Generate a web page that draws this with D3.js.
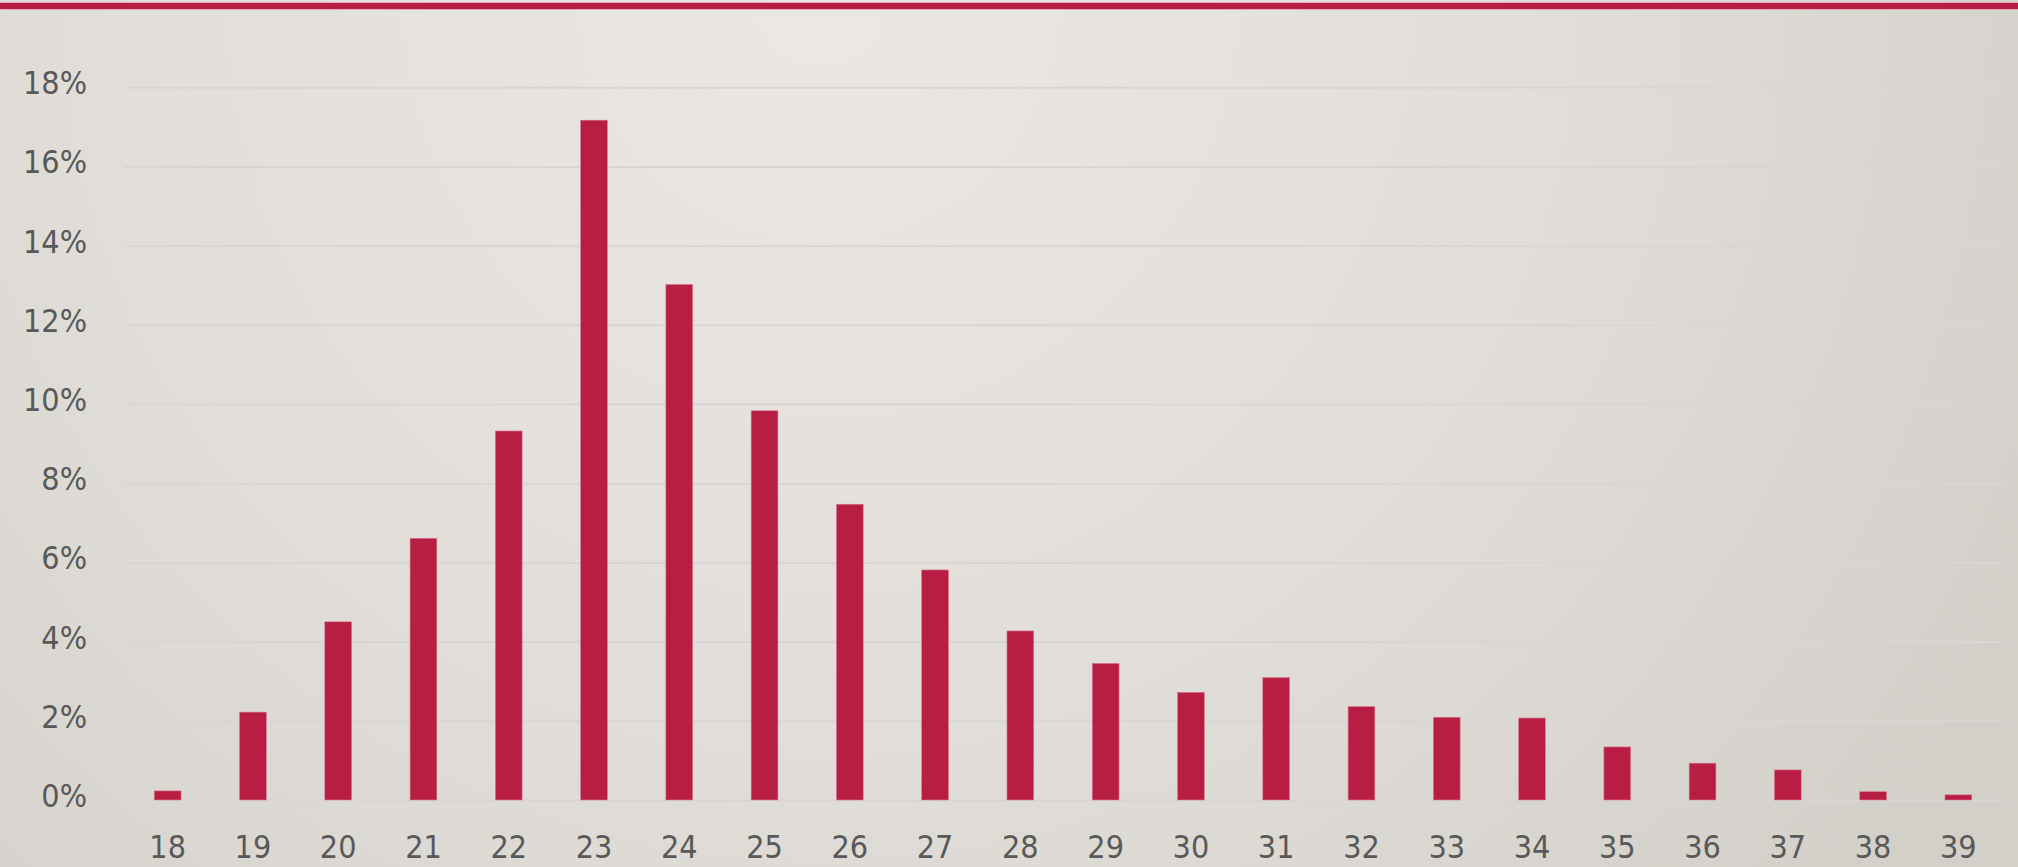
<!DOCTYPE html>
<html>
<head>
<meta charset="utf-8">
<script src="https://cdn.jsdelivr.net/npm/d3@7"></script>
<style>
  html, body { margin: 0; padding: 0; overflow: hidden; }
  svg { display: block; }
</style>
</head>
<body>
<svg id="chart"></svg>
<script>
// ages on the x axis and share of people per age (%)
const ages = ['18','19','20','21','22','23','24','25','26','27','28','29','30','31','32','33','34','35','36','37','38','39'];
const shares = [0.23, 2.22, 4.50, 6.61, 9.32, 17.17, 13.02, 9.83, 7.47, 5.81, 4.27, 3.45, 2.72, 3.09, 2.36, 2.09, 2.07, 1.34, 0.93, 0.76, 0.21, 0.13];
const yTicks = [0, 2, 4, 6, 8, 10, 12, 14, 16, 18];

const W = 2018, H = 867;
const margin = { top: 0, right: 17, left: 125 };
const y0 = 800, yTop = 87.3;
const font = '"DejaVu Sans Condensed", "DejaVu Sans", Verdana, sans-serif';

const svg = d3.select('#chart').attr('width', W).attr('height', H);

// background
const defs = svg.append('defs');
const grad = defs.append('radialGradient')
    .attr('id', 'bg')
    .attr('gradientUnits', 'userSpaceOnUse')
    .attr('cx', 820).attr('cy', 0).attr('r', 1350);
grad.append('stop').attr('offset', '0%').attr('stop-color', '#ebe8e4');
grad.append('stop').attr('offset', '55%').attr('stop-color', '#e1ded9');
grad.append('stop').attr('offset', '100%').attr('stop-color', '#d3d0ca');
svg.append('rect').attr('width', W).attr('height', H).attr('fill', 'url(#bg)');

// red band on top
svg.append('rect').attr('x', 0).attr('y', 2).attr('width', W).attr('height', 8).attr('fill', '#e3a9b5');
svg.append('rect').attr('x', 0).attr('y', 3).attr('width', W).attr('height', 6).attr('fill', '#b81e44');

const x = d3.scaleBand()
    .domain(ages)
    .range([margin.left, W - margin.right])
    .paddingInner(0.686)
    .paddingOuter(0.343);

const y = d3.scaleLinear()
    .domain([0, 18])
    .range([y0, yTop]);

// gridlines
svg.append('g')
    .attr('transform', `translate(${margin.left},0)`)
    .call(d3.axisLeft(y).tickValues(yTicks).tickSize(-(W - margin.right - margin.left)).tickFormat(''))
    .call(g => g.select('.domain').remove())
    .call(g => g.selectAll('line').attr('stroke', '#d8d6d4').attr('stroke-width', 2));

// y labels
svg.append('g')
    .selectAll('text')
    .data(yTicks)
    .join('text')
    .attr('x', 87)
    .attr('y', d => y(d) + 7)
    .attr('text-anchor', 'end')
    .attr('font-family', font)
    .attr('font-size', 32)
    .attr('fill', '#595959')
    .text(d => d + '%');

// bars
svg.append('g')
    .selectAll('rect')
    .data(shares)
    .join('rect')
    .attr('x', (d, i) => x(ages[i]))
    .attr('y', d => y(d))
    .attr('width', x.bandwidth())
    .attr('height', d => y0 - y(d))
    .attr('fill', '#b81e44')
    .attr('stroke', '#d9798f')
    .attr('stroke-width', 0.6);

// x labels
svg.append('g')
    .selectAll('text')
    .data(ages)
    .join('text')
    .attr('x', d => x(d) + x.bandwidth() / 2)
    .attr('y', 858)
    .attr('text-anchor', 'middle')
    .attr('font-family', font)
    .attr('font-size', 32)
    .attr('fill', '#595959')
    .text(d => d);
</script>
</body>
</html>
